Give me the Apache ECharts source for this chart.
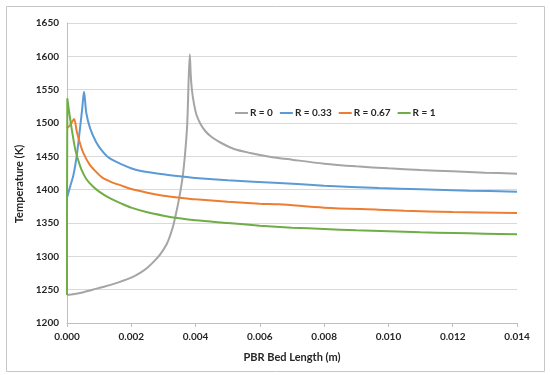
<!DOCTYPE html>
<html>
<head>
<meta charset="utf-8">
<script src="https://cdn.jsdelivr.net/npm/echarts@6/dist/echarts.min.js"></script>
<style>
html,body{margin:0;padding:0;background:#fff;}
#chart{width:550px;height:375px;}
</style>
</head>
<body>
<div id="chart"></div>
<script>
const seriesNames = ['R = 0', 'R = 0.33', 'R = 0.67', 'R = 1'];

const xR0 = [0, 0.0004, 0.0008, 0.0012, 0.0016, 0.002, 0.0023, 0.0025, 0.0027, 0.0029, 0.0031, 0.0032, 0.0033, 0.0034, 0.0035, 0.0036, 0.00367, 0.00374, 0.00382, 0.00385, 0.00389, 0.00395, 0.00403, 0.00415, 0.0043, 0.0045, 0.0048, 0.0052, 0.0057, 0.0063, 0.007, 0.008, 0.009, 0.010, 0.011, 0.012, 0.013, 0.014];
const yR0 = [1242, 1245, 1250, 1255, 1261, 1268, 1276, 1283, 1292, 1303, 1318, 1330, 1345, 1366, 1390, 1420, 1452, 1498, 1603, 1572, 1548, 1529, 1512, 1499, 1488, 1479, 1470, 1461, 1455, 1449.5, 1445, 1439, 1435, 1432, 1429.5, 1427.5, 1425.5, 1424];

const xR033 = [0, 0.0001, 0.0002, 0.0003, 0.0004, 0.00047, 0.00053, 0.0006, 0.00072, 0.0009, 0.00108, 0.0013, 0.0017, 0.0022, 0.003, 0.0035, 0.004, 0.005, 0.0066, 0.008, 0.0097, 0.011, 0.0125, 0.014];
const yR033 = [1388, 1405, 1422, 1450, 1490, 1520, 1547, 1515, 1492, 1472, 1459, 1448, 1438, 1429, 1423, 1420, 1417.5, 1414, 1410, 1406, 1402.5, 1400.5, 1398.5, 1397];

const xR067 = [0, 0.0001, 0.00022, 0.0003, 0.0004, 0.0005, 0.0007, 0.0009, 0.0011, 0.0014, 0.0017, 0.002, 0.0025, 0.003, 0.0035, 0.004, 0.005, 0.006, 0.0066, 0.008, 0.0097, 0.0105, 0.012, 0.014];
const yR067 = [1492, 1497, 1506, 1488, 1470, 1456, 1438, 1427, 1418, 1411, 1406, 1401, 1395.5, 1391, 1388, 1385.5, 1382, 1379, 1378, 1373, 1370, 1368.5, 1366.5, 1365];

const xR1 = [0, 0.00001, 0.00008, 0.00015, 0.00025, 0.00035, 0.00045, 0.0006, 0.0008, 0.001, 0.0013, 0.0017, 0.002, 0.0025, 0.003, 0.0035, 0.004, 0.005, 0.006, 0.007, 0.008, 0.009, 0.010, 0.011, 0.012, 0.013, 0.014];
const yR1 = [1242, 1537, 1512, 1490, 1462, 1444, 1430, 1416, 1405, 1397, 1388, 1379, 1373, 1366, 1361, 1357, 1354, 1350, 1346, 1343, 1341, 1339, 1337.5, 1336, 1335, 1334, 1333];

const xTicks = { min: 0, max: 0.014, step: 0.002 };
const yTicks = { min: 1200, max: 1650, step: 50 };

const colors = ['#a5a5a5', '#5b9bd5', '#ed7d31', '#70ad47'];
const xs = [xR0, xR033, xR067, xR1];
const ys = [yR0, yR033, yR067, yR1];

const FONT = 'Lato';
const chart = echarts.init(document.getElementById('chart'));
chart.setOption({
  animation: false,
  backgroundColor: '#fff',
  color: colors,
  textStyle: { fontFamily: FONT },
  grid: { left: 67, right: 33, top: 23, bottom: 52, containLabel: false },
  graphic: [{
    type: 'rect', left: 4, top: 4, silent: true,
    shape: { width: 538, height: 365 },
    style: { fill: 'none', stroke: '#c6c6c6', lineWidth: 1 }
  }],
  legend: {
    left: 230, top: 103,
    icon: 'rect', itemWidth: 13, itemHeight: 2, itemGap: 7,
    data: seriesNames,
    textStyle: { fontFamily: FONT, fontWeight: 'bold', fontSize: 10, color: '#262626', padding: [0, 0, 0, -3] }
  },
  xAxis: {
    type: 'value', min: xTicks.min, max: xTicks.max, interval: xTicks.step,
    name: 'PBR Bed Length (m)', nameLocation: 'middle', nameGap: 29,
    nameTextStyle: { fontFamily: FONT, fontWeight: 'bold', fontSize: 11, color: '#262626' },
    axisLine: { show: true, lineStyle: { color: '#bfbfbf', width: 1 } },
    axisTick: { show: true, length: 4, lineStyle: { color: '#bfbfbf' } },
    axisLabel: { fontFamily: FONT, fontWeight: 'bold', fontSize: 10, color: '#262626', margin: 9,
      formatter: v => v.toFixed(3) },
    splitLine: { show: false }
  },
  yAxis: {
    type: 'value', min: yTicks.min, max: yTicks.max, interval: yTicks.step,
    name: 'Temperature (K)', nameLocation: 'middle', nameGap: 34,
    nameTextStyle: { fontFamily: FONT, fontWeight: 'bold', fontSize: 11, color: '#262626', padding: [0, 22, 0, 0] },
    axisLine: { show: true, lineStyle: { color: '#bfbfbf', width: 1 } },
    axisTick: { show: false },
    axisLabel: { fontFamily: FONT, fontWeight: 'bold', fontSize: 10, color: '#262626', margin: 8,
      formatter: v => String(v) },
    splitLine: { show: true, lineStyle: { color: '#d9d9d9', width: 1 } }
  },
  series: seriesNames.map((n, i) => ({
    name: n, type: 'line', showSymbol: false, symbol: 'none', smooth: 0.3,
    lineStyle: { width: 2, color: colors[i] },
    data: xs[i].map((x, j) => [x, ys[i][j]])
  }))
});
</script>
</body>
</html>
